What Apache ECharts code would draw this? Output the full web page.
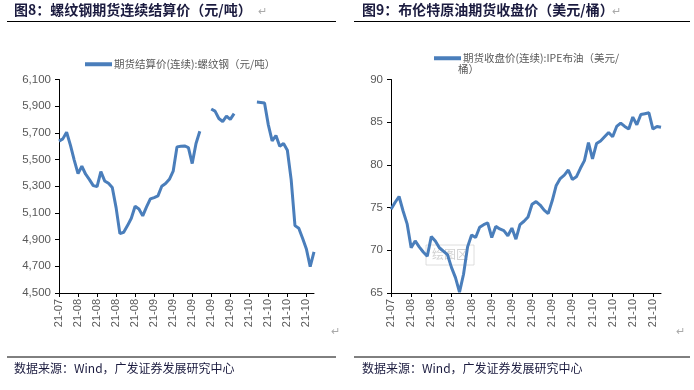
<!DOCTYPE html>
<html><head><meta charset="utf-8">
<script src="https://cdn.jsdelivr.net/npm/echarts@6/dist/echarts.min.js"></script>
<style>html,body{margin:0;padding:0;background:#fff}#c{width:694px;height:390px}</style>
</head><body><div id="c"></div>
<script>
const categories = [
 '21-07','21-07','21-07','21-07',
 '21-08','21-08','21-08','21-08','21-08','21-08','21-08','21-08','21-08','21-08',
 '21-08','21-08','21-08','21-08','21-08','21-08','21-08','21-08','21-08','21-08',
 '21-09','21-09','21-09','21-09','21-09','21-09','21-09','21-09','21-09','21-09','21-09','21-09',
 '21-09','21-09','21-09','21-09','21-09','21-09','21-09','21-09','21-09','21-09','21-09','21-09',
 '21-10','21-10','21-10','21-10','21-10','21-10','21-10','21-10','21-10','21-10',
 '21-10','21-10','21-10','21-10','21-10','21-10','21-10','21-10','21-10','21-10'
];
const steelName = '期货结算价(连续):螺纹钢（元/吨）';
const steelValues = [
 5638,5655,5705,5608,5496,5395,5450,5390,5350,5305,
 5298,5410,5340,5322,5290,5140,4945,4955,5005,5060,
 5150,5130,5078,5145,5205,5215,5228,5300,5320,5352,
 5413,5595,5600,5602,5590,5470,5620,5712,null,null,
 5879,5863,5808,5785,5826,5801,5844,null,null,null,
 null,null,5931,5928,5924,5760,5640,5680,5600,5620,
 5570,5350,5005,4985,4910,4830,4698,4808
];
const brentName = '期货收盘价(连续):IPE布油（美元/桶）';
const brentValues = [
 74.8,75.6,76.3,74.6,73.1,70.3,71.1,70.4,69.8,69.3,
 71.6,71.1,70.3,69.9,69.5,68.0,66.8,65.1,67.2,70.4,
 71.8,71.5,72.7,73.0,73.2,71.5,72.8,72.5,72.3,71.7,
 72.6,71.3,73.0,73.4,73.9,75.4,75.7,75.3,74.7,74.3,
 75.8,77.6,78.4,78.8,79.4,78.3,78.6,79.6,80.5,82.6,
 80.7,82.5,82.8,83.3,83.8,83.3,84.5,84.9,84.5,84.2,
 85.6,84.7,85.9,86.0,86.1,84.2,84.5,84.4
];
const steelAxis = {min: 4500, max: 6100, interval: 200};
const brentAxis = {min: 65, max: 90, interval: 5};

const BLUE = '#4a7ebb';
const AX = '#595959';
const NUM_FONT = 'Liberation Sans, Arial, sans-serif';
const CJK = '"Noto Sans CJK SC", sans-serif';
const DARK = '#1b1b3f';

function xAxis(gi){
  return {type:'category', gridIndex:gi, data:categories, boundaryGap:false,
    axisLine:{lineStyle:{color:'#000',width:1}},
    axisTick:{interval:4,length:4,lineStyle:{color:'#000'}},
    axisLabel:{interval:4,rotate:90,color:AX,fontSize:11,fontFamily:NUM_FONT,margin:6}};
}
function yAxis(gi, a, fmt){
  return {type:'value', gridIndex:gi, min:a.min, max:a.max, interval:a.interval,
    splitLine:{show:false},
    axisLine:{show:true,lineStyle:{color:'#000',width:1}},
    axisTick:{show:true,length:4,lineStyle:{color:'#000'}},
    axisLabel:{color:AX,fontSize:11.5,fontFamily:NUM_FONT,margin:8,formatter:fmt}};
}
function txt(x,y,s,style){
  return {type:'text',left:x,top:y,silent:true,style:Object.assign({text:s,fill:DARK,font:'12px '+CJK},style||{})};
}
function hline(x1,x2,y){
  return {type:'line',silent:true,shape:{x1:x1,y1:y,x2:x2,y2:y},style:{stroke:'#000',lineWidth:1}};
}

const chart = echarts.init(document.getElementById('c'), null, {renderer:'canvas'});
chart.setOption({
  animation:false,
  backgroundColor:'#fff',
  grid:[
    {left:59, top:79.5, width:255, height:213.5},
    {left:391, top:79.5, width:270, height:213.5}
  ],
  xAxis:[xAxis(0), xAxis(1)],
  yAxis:[
    yAxis(0, steelAxis, v => v.toLocaleString('en-US')),
    yAxis(1, brentAxis, v => String(v))
  ],
  legend:[
    {data:[steelName], left:80, top:54, icon:'rect', itemWidth:27, itemHeight:4, itemGap:0,
     textStyle:{color:AX,fontSize:10.5,fontFamily:CJK,padding:[0,0,0,-3]}},
    {data:[brentName], left:429, top:48, icon:'rect', itemWidth:27, itemHeight:4, itemGap:0,
     formatter:() => '期货收盘价(连续):IPE布油（美元/',
     textStyle:{color:AX,fontSize:10.5,fontFamily:CJK,padding:[0,0,0,-3]}}
  ],
  series:[
    {name:steelName, type:'line', xAxisIndex:0, yAxisIndex:0, data:steelValues,
     showSymbol:false, symbol:'none', connectNulls:false, lineStyle:{color:BLUE,width:3}, itemStyle:{color:BLUE}},
    {name:brentName, type:'line', xAxisIndex:1, yAxisIndex:1, data:brentValues,
     showSymbol:false, symbol:'none', lineStyle:{color:BLUE,width:3}, itemStyle:{color:BLUE}}
  ],
  graphic:[
    txt(14,3,'图8：螺纹钢期货连续结算价（元/吨）',{font:'bold 14px '+CJK}),
    txt(258,5,'↵',{fill:'#aaa',font:'11px '+CJK}),
    txt(362,3,'图9：布伦特原油期货收盘价（美元/桶）',{font:'bold 14px '+CJK}),
    txt(612,5,'↵',{fill:'#aaa',font:'11px '+CJK}),
    hline(7,336,21.5),
    hline(354,690,21.5),
    txt(458,64,'桶）',{fill:AX,font:'10.5px '+CJK}),
    hline(7,336,357),
    hline(354,690,357),
    txt(14,362,'数据来源：Wind，广发证券发展研究中心',{font:'12px '+CJK}),
    txt(362,362,'数据来源：Wind，广发证券发展研究中心',{font:'12px '+CJK}),
    txt(331,325,'↵',{fill:'#aaa',font:'11px '+CJK}),
    txt(676,325,'↵',{fill:'#aaa',font:'11px '+CJK}),
    {type:'rect',silent:true,shape:{x:426,y:245,width:48,height:20},style:{fill:'rgba(255,255,255,0.35)',stroke:'rgba(200,200,200,0.6)',lineWidth:1}},
    txt(432,248,'绘图区',{fill:'rgba(190,190,190,0.7)',font:'12px '+CJK})
  ]
});
</script></body></html>
